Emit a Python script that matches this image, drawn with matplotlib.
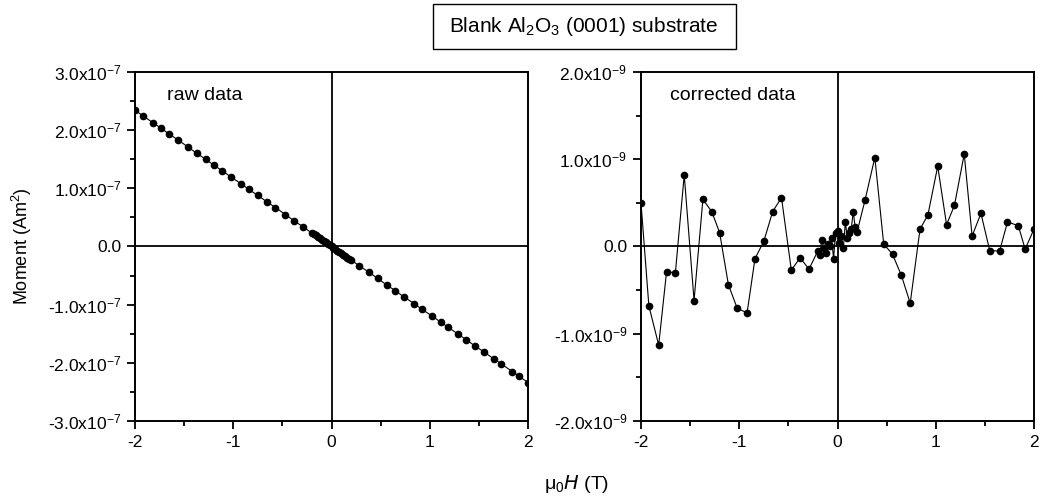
import matplotlib
matplotlib.use("Agg")
import matplotlib.pyplot as plt
from matplotlib.patches import Rectangle
from matplotlib.ticker import MultipleLocator, FuncFormatter

plt.rcParams['font.family'] = ['Liberation Sans', 'DejaVu Sans']
plt.rcParams['mathtext.default'] = 'regular'
plt.rcParams['axes.unicode_minus'] = False

# Applied field (T)
field = [-2.00, -1.92, -1.82, -1.74, -1.65, -1.56, -1.46, -1.37, -1.28, -1.20,
         -1.11, -1.02, -0.92, -0.84, -0.75, -0.66, -0.57, -0.47, -0.38, -0.29,
         -0.20, -0.18, -0.16, -0.14, -0.12, -0.10, -0.08, -0.06, -0.04, -0.02,
         0.00, 0.02, 0.04, 0.06, 0.08, 0.10, 0.12, 0.14, 0.16, 0.18, 0.20,
         0.28, 0.38, 0.47, 0.56, 0.65, 0.74, 0.84, 0.92, 1.02, 1.11,
         1.19, 1.29, 1.37, 1.46, 1.55, 1.65, 1.73, 1.84, 1.91, 2.00]

# Raw moment (units of 1e-7 Am^2)
raw_moment = [2.34, 2.25, 2.13, 2.04, 1.93, 1.83, 1.71, 1.60, 1.50, 1.40,
              1.30, 1.19, 1.08, 0.98, 0.88, 0.77, 0.67, 0.55, 0.44, 0.34,
              0.23, 0.21, 0.19, 0.16, 0.14, 0.12, 0.09, 0.07, 0.05, 0.02,
              0.00, -0.02, -0.05, -0.07, -0.09, -0.12, -0.14, -0.16, -0.19, -0.21, -0.23,
              -0.33, -0.44, -0.55, -0.66, -0.76, -0.87, -0.98, -1.08, -1.19, -1.30,
              -1.39, -1.51, -1.60, -1.71, -1.81, -1.93, -2.02, -2.15, -2.23, -2.34]

# Corrected moment (units of 1e-9 Am^2)
corr_moment = [0.50, -0.68, -1.13, -0.29, -0.30, 0.82, -0.62, 0.54, 0.40, 0.16,
               -0.44, -0.71, -0.76, -0.14, 0.06, 0.40, 0.56, -0.27, -0.13, -0.26,
               -0.05, -0.10, 0.08, -0.02, -0.08, 0.03, 0.00, 0.10, -0.14, 0.16,
               0.18, 0.04, 0.12, -0.02, 0.28, 0.10, 0.15, 0.20, 0.40, 0.22, 0.17,
               0.53, 1.02, 0.03, -0.09, -0.33, -0.65, 0.20, 0.36, 0.92, 0.25,
               0.47, 1.06, 0.12, 0.38, -0.05, -0.05, 0.28, 0.24, -0.03, 0.20]

x_ticks = [-2, -1, 0, 1, 2]

W, H = 1043, 499
fig = plt.figure(figsize=(W / 100, H / 100), dpi=100)

ax1 = fig.add_axes([135 / W, 1 - 421 / H, 393 / W, 349 / H])
ax2 = fig.add_axes([641 / W, 1 - 421 / H, 393 / W, 349 / H])


def make_fmt(exp):
    def f(v, pos):
        if abs(v) < 1e-12:
            return "0.0"
        return "%.1fx10$^{%d}$" % (v, exp)
    return f


def style(ax, ylim, ymaj, ymin, exp):
    ax.set_xlim(-2, 2)
    ax.set_ylim(*ylim)
    ax.set_xticks(x_ticks)
    ax.xaxis.set_minor_locator(MultipleLocator(0.5))
    ax.yaxis.set_major_locator(MultipleLocator(ymaj))
    ax.yaxis.set_minor_locator(MultipleLocator(ymin))
    ax.yaxis.set_major_formatter(FuncFormatter(make_fmt(exp)))
    ax.tick_params(which='major', direction='out', length=6, width=1.3,
                   labelsize=12.5, pad=4, top=False, right=False)
    ax.tick_params(which='minor', direction='out', length=3.5, width=1.3,
                   top=False, right=False)
    for s in ax.spines.values():
        s.set_linewidth(1.4)
    ax.axhline(0, color='black', lw=1.3, zorder=1)
    ax.axvline(0, color='black', lw=1.3, zorder=1)


ax1.plot(field, raw_moment, color='black', lw=0.8, marker='o', ms=4.5, zorder=3)
style(ax1, (-3, 3), 1, 0.5, -7)
ax1.text(0.081, 0.934, "raw data", transform=ax1.transAxes, fontsize=14,
         va='center', ha='left')
ax1.set_ylabel("Moment (Am$^2$)", fontsize=13)
ax1.yaxis.set_label_coords((34 - 135) / 393, 0.5)

ax2.plot(field, corr_moment, color='black', lw=0.8, marker='o', ms=4.5, zorder=3)
style(ax2, (-2, 2), 1, 0.5, -9)
ax2.text(0.074, 0.934, "corrected data", transform=ax2.transAxes, fontsize=14,
         va='center', ha='left')

fig.text(577 / W, 1 - 484 / H, "$\\mu_0$$\\it{H}$ (T)", ha='center', va='center',
         fontsize=14)

fig.patches.append(Rectangle((433 / W, 1 - 49 / H), 303 / W, 45 / H,
                             transform=fig.transFigure, fill=False,
                             ec='black', lw=1.0))
fig.text(584 / W, 1 - 27 / H, "Blank Al$_2$O$_3$ (0001) substrate", ha='center',
         va='center', fontsize=15)

fig.savefig("out.png", dpi=100)
